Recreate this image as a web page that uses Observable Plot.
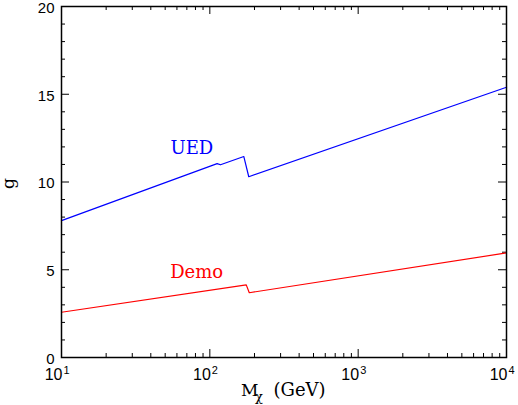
<!DOCTYPE html>
<html><head><meta charset="utf-8">
<script src="https://cdn.jsdelivr.net/npm/d3@7"></script>
<script src="https://cdn.jsdelivr.net/npm/@observablehq/plot@0.6"></script>
<style>body{margin:0;background:#fff}</style>
</head><body><div id="chart"></div>
<script>
// Data
const uedMass = [10, 112, 118, 169.5, 183, 10000];
const uedG    = [7.8, 11.05, 10.98, 11.45, 10.3, 15.4];
const demoMass = [10, 176, 184.5, 10000];
const demoG    = [2.58, 4.14, 3.69, 5.96];

const xMajor = [10, 100, 1000, 10000];
const xExponents = ["1", "2", "3", "4"];
const xMinor = [20,30,40,50,60,70,80,90,200,300,400,500,600,700,800,900,2000,3000,4000,5000,6000,7000,8000,9000];
const yMajor = [0, 5, 10, 15, 20];
const yMinor = [1,2,3,4,6,7,8,9,11,12,13,14,16,17,18,19];

const seriesNames = ["UED", "Demo"];
const seriesColors = ["#0000ff", "#ff0000"];
const labelMass = [54.3, 54.0];
const labelG = [11.57, 4.52];

const W = 518, H = 405;
const mL = 61, mR = 12, mT = 6, mB = 48;
const pw = W - mL - mR, ph = H - mT - mB;

const ued = uedMass.map((m, i) => ({m, g: uedG[i]}));
const demo = demoMass.map((m, i) => ({m, g: demoG[i]}));
const labels = seriesNames.map((s, i) => ({s, m: labelMass[i], g: labelG[i], c: seriesColors[i]}));

const serif = "DejaVu Serif";
const sans = "Liberation Sans";

const chart = Plot.plot({
  width: W, height: H,
  marginLeft: mL, marginRight: mR, marginTop: mT, marginBottom: mB,
  style: {background: "white", fontFamily: sans},
  x: {type: "log", domain: [10, 10000], axis: null},
  y: {domain: [0, 20], axis: null},
  marks: [
    // ticks (inward, all four sides)
    Plot.tickX(xMajor, {x: d => d, insetTop: ph - 8, stroke: "black"}),
    Plot.tickX(xMajor, {x: d => d, insetBottom: ph - 8, stroke: "black"}),
    Plot.tickX(xMinor, {x: d => d, insetTop: ph - 4, stroke: "black"}),
    Plot.tickX(xMinor, {x: d => d, insetBottom: ph - 4, stroke: "black"}),
    Plot.tickY(yMajor, {y: d => d, insetRight: pw - 8, stroke: "black"}),
    Plot.tickY(yMajor, {y: d => d, insetLeft: pw - 8, stroke: "black"}),
    Plot.tickY(yMinor, {y: d => d, insetRight: pw - 4, stroke: "black"}),
    Plot.tickY(yMinor, {y: d => d, insetLeft: pw - 4, stroke: "black"}),
    // data
    Plot.line(ued, {x: "m", y: "g", stroke: seriesColors[0], strokeWidth: 1.2}),
    Plot.line(demo, {x: "m", y: "g", stroke: seriesColors[1], strokeWidth: 1.2}),
    Plot.frame({stroke: "black", strokeWidth: 1.5}),
    // series labels
    Plot.text(labels, {x: "m", y: "g", text: "s", fill: "c", textAnchor: "start", lineAnchor: "bottom",
      fontFamily: serif, fontSize: 18}),
    // y tick labels
    Plot.text(yMajor, {y: d => d, frameAnchor: "left", text: d => String(d), textAnchor: "end",
      dx: -7, dy: 1.5, fontSize: 15, fontFamily: sans, fill: "black"}),
    // x tick labels 10^n
    Plot.text(xMajor, {x: d => d, frameAnchor: "bottom", text: () => "10", textAnchor: "end",
      lineAnchor: "bottom", dx: 1, dy: 22, fontSize: 16, fontFamily: sans, fill: "black"}),
    Plot.text(xMajor, {x: d => d, frameAnchor: "bottom", text: (d, i) => xExponents[i], textAnchor: "start",
      lineAnchor: "bottom", dx: 2, dy: 16, fontSize: 11, fontFamily: sans, fill: "black"}),
    // axis titles
    Plot.text(["M"], {frameAnchor: "bottom", textAnchor: "start", lineAnchor: "bottom",
      dx: 240.5 - (mL + pw / 2), dy: 38.5, fontFamily: serif, fontSize: 17, fill: "black"}),
    Plot.text(["χ"], {frameAnchor: "bottom", textAnchor: "start", lineAnchor: "bottom",
      dx: 254.5 - (mL + pw / 2), dy: 43, fontFamily: serif, fontSize: 13, fill: "black"}),
    Plot.text(["(GeV)"], {frameAnchor: "bottom", textAnchor: "start", lineAnchor: "bottom",
      dx: 273 - (mL + pw / 2), dy: 38.5, fontFamily: serif, fontSize: 18, fill: "black"}),
    Plot.text(["g"], {frameAnchor: "left", rotate: -90, dx: -53, dy: 7,
      fontFamily: serif, fontSize: 17, fill: "black"})
  ]
});
document.getElementById("chart").appendChild(chart);
</script>
</body></html>
